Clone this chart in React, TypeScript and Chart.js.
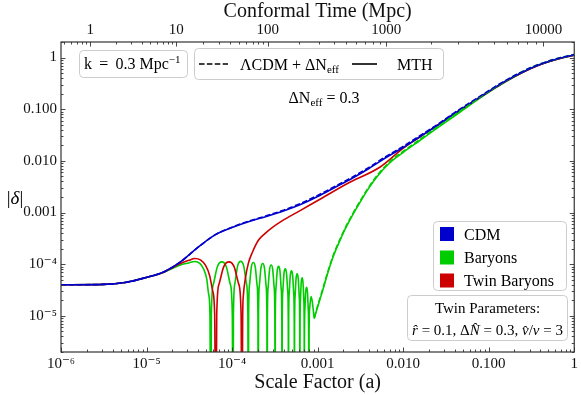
import React, { useEffect, useRef } from 'react';
import { Chart, registerables } from 'chart.js';

Chart.register(...registerables);

const FONT = '"Liberation Serif", "DejaVu Serif", serif';

// ---------- data (log10 of scale factor a, and |delta|) ----------
const cdmLogA = [-6, -5.5, -5.25, -5, -4.8, -4.6, -4.4, -4.2, -4, -3.8, -3.6, -3.4, -3.2, -3, -2.8, -2.6, -2.4, -2.2, -2, -1.8, -1.6, -1.4, -1.2, -1, -0.8, -0.6, -0.4, -0.2, 0];
const cdmDelta = [4.0e-5, 4.07e-5, 4.44e-5, 5.56e-5, 7.1e-5, 1.12e-4, 2.11e-4, 3.69e-4, 5.15e-4, 6.73e-4, 8.41e-4, 1.07e-3, 1.43e-3, 2.05e-3, 3.06e-3, 4.57e-3, 7.13e-3, 1.16e-2, 1.82e-2, 2.96e-2, 4.84e-2, 8.26e-2, 0.135, 0.22, 0.351, 0.525, 0.732, 0.935, 1.12];
const lcdmCdmDelta = [4.0e-5, 4.07e-5, 4.44e-5, 5.56e-5, 7.1e-5, 1.12e-4, 2.11e-4, 3.69e-4, 5.2e-4, 6.85e-4, 8.65e-4, 1.11e-3, 1.5e-3, 2.15e-3, 3.2e-3, 4.8e-3, 7.5e-3, 1.22e-2, 1.91e-2, 3.1e-2, 5.05e-2, 8.6e-2, 0.14, 0.228, 0.362, 0.54, 0.75, 0.955, 1.14];

const twinLogA = [-6, -5.5, -5.25, -5, -4.806, -4.61, -4.505, -4.436, -4.3662, -4.3082, -4.2619, -4.2271, -4.2039, -4.1889,
  -4.1796, -4.153, -4.0973, -4.0371, -3.9768, -3.9217, -3.8945, -3.8853,
  -3.876, -3.8679, -3.8448, -3.81, -3.7636, -3.6941, -3.613, -3.52, -3.416, -3.2306, -2.9988, -2.6512, -2.2688, -2.002, -1.805, -1.608, -1.4, -1.2, -1.0, -0.8, -0.6, -0.4, -0.2, 0];
const twinDelta = [4.0e-5, 4.07e-5, 4.44e-5, 5.56e-5, 6.94e-5, 1.02e-4, 1.19e-4, 1.29e-4, 1.2e-4, 9.4e-5, 6.0e-5, 3.05e-5, 1.1e-5, 1e-8,
  1.04e-5, 4.08e-5, 8.98e-5, 1.11e-4, 8.98e-5, 4.08e-5, 1.04e-5, 1e-8,
  1.0e-5, 2.5e-5, 5.3e-5, 1.04e-4, 1.69e-4, 2.88e-4, 3.94e-4, 5.26e-4, 6.88e-4, 1.03e-3, 1.71e-3, 3.66e-3, 7.62e-3, 1.74e-2, 2.9e-2, 4.8e-2, 8.2e-2, 0.134, 0.218, 0.348, 0.52, 0.728, 0.93, 1.11];

const baryonLogA = [-6, -5.5, -5.25, -5, -4.806, -4.61, -4.505, -4.436, -4.3778, -4.3314, -4.2966, -4.2735, -4.2584, -4.2503,
  -4.2425, -4.219, -4.1721, -4.1199, -4.0678, -4.0209, -3.9974, -3.9896,
  -3.9842, -3.968, -3.9357, -3.8998, -3.8638, -3.8315, -3.8154, -3.81,
  -3.8065, -3.7961, -3.7752, -3.752, -3.7289, -3.708, -3.6976, -3.6941,
  -3.691, -3.6816, -3.6628, -3.642, -3.6211, -3.6023, -3.5929, -3.5898,
  -3.587, -3.5787, -3.562, -3.5434, -3.5249, -3.5082, -3.4999, -3.4971,
  -3.4947, -3.4874, -3.4728, -3.4565, -3.4403, -3.4257, -3.4184, -3.416,
  -3.4137, -3.407, -3.3934, -3.3783, -3.3633, -3.3497, -3.3429, -3.3407,
  -3.3386, -3.3323, -3.3198, -3.3059, -3.292, -3.2795, -3.2732, -3.2711,
  -3.2692, -3.2635, -3.252, -3.2393, -3.2265, -3.2151, -3.2093, -3.2074,
  -3.2058, -3.2012, -3.1918, -3.1813, -3.1709, -3.1615, -3.1568, -3.1553,
  -3.1537, -3.149, -3.1396, -3.1292, -3.1188, -3.1094, -3.1047, -3.1031,
  -3.0997, -3.0915, -3.0765, -3.0626, -3.0487, -3.0394,
  -3.022, -2.9872, -2.9409, -2.883, -2.8134, -2.7439, -2.6744, -2.5933, -2.5122, -2.4195, -2.3036, -2.1645, -2.002, -1.805, -1.608, -1.4, -1.203, -1.006, -0.797, -0.6, -0.4, -0.2, 0];
const baryonDelta = [4.0e-5, 4.07e-5, 4.44e-5, 5.56e-5, 6.94e-5, 9.6e-5, 1.06e-4, 1.13e-4, 1.04e-4, 8.0e-5, 5.2e-5, 2.6e-5, 1.0e-5, 1e-8,
  1.04e-5, 4.08e-5, 8.96e-5, 1.108e-4, 8.96e-5, 4.08e-5, 1.04e-5, 1e-8,
  1.065e-5, 4.17e-5, 9.17e-5, 1.133e-4, 9.17e-5, 4.17e-5, 1.065e-5, 1e-8,
  1.02e-5, 3.99e-5, 8.76e-5, 1.083e-4, 8.76e-5, 3.99e-5, 1.02e-5, 1e-8,
  9.74e-6, 3.81e-5, 8.38e-5, 1.036e-4, 8.38e-5, 3.81e-5, 9.74e-6, 1e-8,
  9.11e-6, 3.57e-5, 7.84e-5, 9.69e-5, 7.84e-5, 3.57e-5, 9.11e-6, 1e-8,
  8.53e-6, 3.34e-5, 7.34e-5, 9.07e-5, 7.34e-5, 3.34e-5, 8.53e-6, 1e-8,
  7.62e-6, 2.98e-5, 6.56e-5, 8.11e-5, 6.56e-5, 2.98e-5, 7.62e-6, 1e-8,
  6.97e-6, 2.73e-5, 6.0e-5, 7.42e-5, 6.0e-5, 2.73e-5, 6.97e-6, 1e-8,
  6.1e-6, 2.39e-5, 5.25e-5, 6.49e-5, 5.25e-5, 2.39e-5, 6.1e-6, 1e-8,
  5.1e-6, 2.0e-5, 4.39e-5, 5.43e-5, 4.39e-5, 2.0e-5, 5.1e-6, 1e-8,
  3.35e-6, 1.31e-5, 2.88e-5, 3.56e-5, 2.88e-5, 1.31e-5, 3.35e-6, 1e-8,
  5e-6, 1.5e-5, 2.38e-5, 1.9e-5, 1.2e-5, 8.9e-6,
  1.12e-5, 1.74e-5, 3.11e-5, 6.64e-5, 1.48e-4, 2.76e-4, 4.92e-4, 8.79e-4, 1.5e-3, 2.68e-3, 4.99e-3, 8.91e-3, 1.45e-2, 2.48e-2, 4.24e-2, 7.39e-2, 0.126, 0.21, 0.343, 0.52, 0.73, 0.93, 1.11];

const lcdmBaryonLogA = [-3.0394, -3.022, -2.9872, -2.9409, -2.883, -2.8134, -2.7439, -2.6744, -2.5933, -2.5122, -2.4195, -2.3036, -2.1645, -2.002, -1.805, -1.608, -1.4, -1.203, -1.006, -0.797, -0.6, -0.4, -0.2, 0];
const lcdmBaryonDelta = [9.3e-6, 1.18e-5, 1.83e-5, 3.27e-5, 6.97e-5, 1.55e-4, 2.9e-4, 5.17e-4, 9.23e-4, 1.58e-3, 2.81e-3, 5.24e-3, 9.36e-3, 1.52e-2, 2.6e-2, 4.45e-2, 7.76e-2, 0.132, 0.22, 0.36, 0.545, 0.75, 0.955, 1.14];

// ---------- axes ----------
const xTickValues = [1e-6, 1e-5, 1e-4, 1e-3, 1e-2, 1e-1, 1];
const xTickLabels = ['10⁻⁶', '10⁻⁵', '10⁻⁴', '0.001', '0.010', '0.100', '1'];
const yTickValues = [1e-5, 1e-4, 1e-3, 1e-2, 1e-1, 1];
const yTickLabels = ['10⁻⁵', '10⁻⁴', '0.001', '0.010', '0.100', '1'];
const tauTickValues = [1, 10, 100, 1000, 10000];
const tauTickLabels = ['1', '10', '100', '1000', '10000'];

const A_MIN = 1e-6, A_MAX = 1, D_MIN = 2e-6, D_MAX = 2;

// conformal time (Mpc) -> scale factor for a radiation + matter universe
const TAU_SCALE = 15525, SQRT_AEQ = 0.017;
const tauToA = (tau: number) => (tau / TAU_SCALE + SQRT_AEQ) ** 2 - SQRT_AEQ ** 2;

const BLUE = '#0000CC', GREEN = '#00CC00', RED = '#CC0000';

const pts = (la: number[], d: number[]) => la.map((l, i) => ({ x: Math.pow(10, l), y: d[i] }));

type Part = { t: string; size?: number; italic?: boolean; dy?: number };
function drawRich(ctx: CanvasRenderingContext2D, parts: Part[], x: number, y: number, align: 'left' | 'center', base = 16) {
  const fonts = parts.map(p => `${p.italic ? 'italic ' : ''}${p.size ?? base}px ${FONT}`);
  const widths = parts.map((p, i) => { ctx.font = fonts[i]; return ctx.measureText(p.t).width; });
  const total = widths.reduce((a, b) => a + b, 0);
  let cx = align === 'center' ? x - total / 2 : x;
  ctx.textAlign = 'left';
  ctx.textBaseline = 'alphabetic';
  parts.forEach((p, i) => { ctx.font = fonts[i]; ctx.fillText(p.t, cx, y + (p.dy ?? 0)); cx += widths[i]; });
}

function box(ctx: CanvasRenderingContext2D, x: number, y: number, w: number, h: number) {
  ctx.beginPath();
  (ctx as any).roundRect(x, y, w, h, 4);
  ctx.fillStyle = 'rgba(255,255,255,0.85)';
  ctx.fill();
  ctx.strokeStyle = '#cccccc';
  ctx.lineWidth = 1;
  ctx.stroke();
}

const decor = {
  id: 'decor',
  afterDatasetsDraw(chart: any) {
    const { ctx, chartArea: ca, scales } = chart;
    const xs = scales.x, ys = scales.y;
    ctx.save();
    ctx.strokeStyle = '#333';
    ctx.lineWidth = 0.9;
    const tick = (x1: number, y1: number, x2: number, y2: number) => {
      ctx.beginPath(); ctx.moveTo(x1, y1); ctx.lineTo(x2, y2); ctx.stroke();
    };
    for (let e = -6; e <= 0; e++) for (let k = 1; k <= 9; k++) {
      const v = k * Math.pow(10, e);
      if (v < A_MIN * 0.999 || v > A_MAX * 1.001) continue;
      const p = Math.round(xs.getPixelForValue(v)) + 0.5;
      tick(p, ca.bottom, p, ca.bottom - (k === 1 ? 4.5 : 2.5));
    }
    for (let e = -1; e <= 4; e++) for (let k = 1; k <= 9; k++) {
      const a = tauToA(k * Math.pow(10, e));
      if (a < A_MIN || a > A_MAX) continue;
      const p = Math.round(xs.getPixelForValue(a)) + 0.5;
      tick(p, ca.top, p, ca.top + (k === 1 ? 4.5 : 2.5));
    }
    for (let e = -6; e <= 0; e++) for (let k = 1; k <= 9; k++) {
      const v = k * Math.pow(10, e);
      if (v < D_MIN * 0.999 || v > D_MAX * 1.001) continue;
      const p = Math.round(ys.getPixelForValue(v)) + 0.5;
      const L = k === 1 ? 4.5 : 2.5;
      tick(ca.left, p, ca.left + L, p);
      tick(ca.right, p, ca.right - L, p);
    }
    ctx.lineWidth = 1.2;
    ctx.strokeRect(ca.left, ca.top, ca.right - ca.left, ca.bottom - ca.top);
    ctx.restore();
  },
  afterDraw(chart: any) {
    const ctx: CanvasRenderingContext2D = chart.ctx;
    ctx.save();
    // y-axis label
    ctx.fillStyle = '#000';
    drawRich(ctx, [{ t: '|' }, { t: 'δ', italic: true }, { t: '|' }], 15, 204, 'center', 19);

    // box 1
    box(ctx, 79.5, 50.5, 108, 27);
    ctx.fillStyle = '#000';
    drawRich(ctx, [{ t: 'k\u2009 = \u20090.3 Mpc' }, { t: '−1', size: 11, dy: -6 }], 84, 69, 'left', 16);

    // box 2: line style legend
    box(ctx, 194.5, 48.5, 249, 31);
    ctx.strokeStyle = '#000';
    ctx.lineWidth = 1.6;
    ctx.setLineDash([5.5, 2.4]);
    ctx.beginPath(); ctx.moveTo(199, 64); ctx.lineTo(228, 64); ctx.stroke();
    ctx.setLineDash([]);
    ctx.beginPath(); ctx.moveTo(352, 64); ctx.lineTo(377, 64); ctx.stroke();
    ctx.fillStyle = '#000';
    drawRich(ctx, [{ t: 'ΛCDM + ΔN' }, { t: 'eff', size: 11, dy: 3.5 }], 240, 69.5, 'left', 16);
    drawRich(ctx, [{ t: 'MTH' }], 397, 69.5, 'left', 16);

    // Delta N_eff annotation
    drawRich(ctx, [{ t: 'ΔN' }, { t: 'eff', size: 11, dy: 3.5 }, { t: ' = 0.3' }], 324, 102.5, 'center', 16);

    // box 3: colour legend
    box(ctx, 433.5, 221.5, 133, 69);
    const rows = [{ c: BLUE, t: 'CDM', y: 234 }, { c: GREEN, t: 'Baryons', y: 257.5 }, { c: RED, t: 'Twin Baryons', y: 280.5 }];
    rows.forEach(r => {
      ctx.fillStyle = r.c;
      ctx.fillRect(440, r.y - 7, 14, 14);
      ctx.fillStyle = '#000';
      drawRich(ctx, [{ t: r.t }], 464, r.y + 5.5, 'left', 16);
    });

    // box 4: twin parameters
    box(ctx, 407.5, 295.5, 160, 45);
    ctx.fillStyle = '#000';
    drawRich(ctx, [{ t: 'Twin Parameters:' }], 487.5, 313, 'center', 15);
    drawRich(ctx, [
      { t: 'r\u0302', italic: true }, { t: ' = 0.1, Δ' }, { t: 'N\u0302', italic: true },
      { t: ' = 0.3, ' }, { t: 'v\u0302', italic: true }, { t: '/' }, { t: 'v', italic: true }, { t: ' = 3' },
    ], 487.5, 335, 'center', 15);
    ctx.restore();
  },
};

export default function App() {
  const ref = useRef<HTMLCanvasElement | null>(null);
  useEffect(() => {
    if (!ref.current) return;
    const tickFont = { family: FONT, size: 15 };
    const titleFont = { family: FONT, size: 20 };
    const common = { borderWidth: 1.6, pointRadius: 0, fill: false, cubicInterpolationMode: 'monotone' as const };
    const chart = new Chart(ref.current, {
      type: 'line',
      data: {
        datasets: [
          { label: 'ΛCDM CDM', data: pts(cdmLogA, lcdmCdmDelta), borderColor: BLUE, borderDash: [5.5, 2.4], ...common },
          { label: 'ΛCDM Baryons', data: pts(lcdmBaryonLogA, lcdmBaryonDelta), borderColor: GREEN, borderDash: [5.5, 2.4], ...common },
          { label: 'CDM', data: pts(cdmLogA, cdmDelta), borderColor: BLUE, ...common },
          { label: 'Twin Baryons', data: pts(twinLogA, twinDelta), borderColor: RED, ...common },
          { label: 'Baryons', data: pts(baryonLogA, baryonDelta), borderColor: GREEN, ...common },
        ],
      },
      options: {
        animation: false,
        responsive: false,
        events: [],
        layout: { padding: { left: 0, right: 2, top: 0, bottom: 0 } },
        plugins: { legend: { display: false }, tooltip: { enabled: false } },
        scales: {
          x: {
            type: 'logarithmic', position: 'bottom', min: A_MIN, max: A_MAX,
            grid: { display: false, drawTicks: false }, border: { display: false },
            afterBuildTicks: (s: any) => { s.ticks = xTickValues.map(v => ({ value: v })); },
            afterFit: (s: any) => { s.height = 43; },
            ticks: { font: tickFont, color: '#111', padding: 3, maxRotation: 0, autoSkip: false, callback: (_v: any, i: number) => xTickLabels[i] },
            title: { display: true, text: 'Scale Factor (a)', font: titleFont, color: '#111', padding: { top: 0, bottom: 0 } },
          },
          xTop: {
            type: 'logarithmic', position: 'top', min: A_MIN, max: A_MAX,
            grid: { display: false, drawTicks: false }, border: { display: false },
            afterBuildTicks: (s: any) => { s.ticks = tauTickValues.map(t => ({ value: tauToA(t) })); },
            afterFit: (s: any) => { s.height = 42; },
            ticks: { font: tickFont, color: '#111', padding: 3, maxRotation: 0, autoSkip: false, callback: (_v: any, i: number) => tauTickLabels[i] },
            title: { display: true, text: 'Conformal Time (Mpc)', font: titleFont, color: '#111', padding: { top: 0, bottom: 0 } },
          },
          y: {
            type: 'logarithmic', position: 'left', min: D_MIN, max: D_MAX,
            grid: { display: false, drawTicks: false }, border: { display: false },
            afterBuildTicks: (s: any) => { s.ticks = yTickValues.map(v => ({ value: v })); },
            afterFit: (s: any) => { s.width = 61; },
            ticks: { font: tickFont, color: '#111', padding: 4, autoSkip: false, callback: (_v: any, i: number) => yTickLabels[i] },
          },
        },
      } as any,
      plugins: [decor],
    });
    return () => chart.destroy();
  }, []);
  return (
    <div style={{ position: 'absolute', left: 0, top: 0, width: 581, height: 395, background: '#fff' }}>
      <canvas ref={ref} width={581} height={395} style={{ display: 'block' }} />
    </div>
  );
}
